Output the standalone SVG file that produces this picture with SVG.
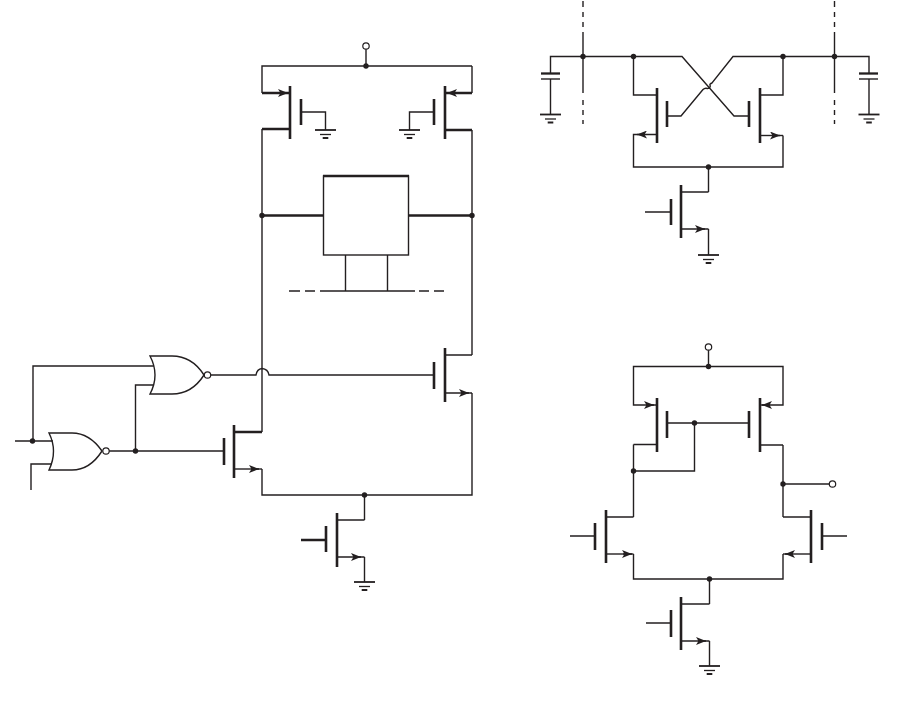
<svg xmlns="http://www.w3.org/2000/svg" width="900" height="708" viewBox="0 0 900 708">
<defs>
<marker id="ar" viewBox="0 0 10 8" refX="10" refY="4" markerWidth="10" markerHeight="8" markerUnits="userSpaceOnUse" orient="auto"><path d="M0 0L10 4L0 8L2.500 4Z" fill="#231f20"/></marker>
<symbol id="gnd" overflow="visible"><path d="M-10.500 0H10.500" stroke="#231f20" stroke-width="1.800" fill="none"/><path d="M-5.500 4.500H5.500" stroke="#231f20" stroke-width="1.300" fill="none"/><path d="M-2.800 8H2.800" stroke="#231f20" stroke-width="2" fill="none"/></symbol>
</defs>
<style>
.w{fill:none;stroke:#231f20;stroke-width:1.400}
.t{fill:none;stroke:#231f20;stroke-width:2.300}
.b{fill:none;stroke:#231f20;stroke-width:2.600}
.d{fill:#231f20}
.o{fill:#fff;stroke:#231f20;stroke-width:1.200}
.a{fill:none;stroke:#231f20;stroke-width:1.400;marker-end:url(#ar)}
</style>
<rect width="900" height="708" fill="#fff"/>
<g id="connectors">
<path class="w" d="M15 441H53M33 441V366H154M31 490V464H52M109 451H223M135.500 451V385H153M211 375H256Q257 369 262 368.500Q268 369 269 375H434"/>
<path class="w" d="M262 129V432M472 66V93M262 93V66H472M472 130V355M262 469V495H472V393"/>
<path class="w" d="M366 49V66M364.500 495V520M364.500 557V582"/>
<path class="t" d="M262 215.500H323M409 215.500H472M301 540H326M234 432H262M262 93H290M445 93H472M262 129H290M445 130H472"/>
<path class="w" d="M550.500 73V56.500H682L734 116H749M667 116H681L703 89.500Q705 87.500 707.500 88.500Q711 88 710 85Q709.500 84 712 83L733 56.500H869V73M550.500 79V114.500M869 79V114.500"/>
<path class="w" d="M583 1V7M583 12V17M583 22V27M583 32V93M583 100V105M583 110V115M583 120V124M834.500 1V7M834.500 12V17M834.500 22V27M834.500 32V93M834.500 100V105M834.500 110V115M834.500 120V124"/>
<path class="w" d="M633.500 56.500V95H657M783 56.500V95H760M657 134.500H633.500V167H783V135.500M708.500 167V192M708.500 229V255M645 212H671"/>
<path class="w" d="M708.500 350V366.500M657 405H633.500V366.500H783V405H760M667 423H749M694.500 423V471H633.500M633.500 444.500H657M633.500 444.500V517M783 445H760M783 445V517M783 484H829.500M570 536H595M847 536H822M633.500 517H606M783 517H811M633.500 554V579H783V554M709.500 579V604M709.500 641V666M646 623H671"/>
</g>
<g id="nor1"><path class="w" d="M49 433Q58 451 49 470H72C85 470 95 462 102 451C95 441 85 433 72 433Z"/><circle class="o" cx="106" cy="451" r="3.200"/></g>
<g id="nor2"><path class="w" d="M150 356Q160 375 150 394H172C186 394 197 386 204 375C197 364 186 356 172 356Z"/><circle class="o" cx="207.500" cy="375" r="3.200"/></g>
<g id="dots">
<circle class="d" cx="32.500" cy="441" r="2.700"/><circle class="d" cx="135.500" cy="451" r="2.700"/><circle class="d" cx="366" cy="66" r="2.700"/><circle class="d" cx="262" cy="215.500" r="2.700"/><circle class="d" cx="472" cy="215.500" r="2.700"/><circle class="d" cx="364.500" cy="495" r="2.700"/>
<circle class="d" cx="583" cy="56.500" r="2.700"/><circle class="d" cx="633.500" cy="56.500" r="2.700"/><circle class="d" cx="783" cy="56.500" r="2.700"/><circle class="d" cx="834.500" cy="56.500" r="2.700"/><circle class="d" cx="708.500" cy="167" r="2.700"/>
<circle class="d" cx="708.500" cy="366.500" r="2.700"/><circle class="d" cx="694.500" cy="423" r="2.700"/><circle class="d" cx="633.500" cy="471" r="2.700"/><circle class="d" cx="783" cy="484" r="2.700"/><circle class="d" cx="709.500" cy="579" r="2.700"/>
<circle class="o" cx="366" cy="46" r="3.200"/><circle class="o" cx="708.500" cy="347" r="3.200"/><circle class="o" cx="832.500" cy="484" r="3.200"/>
</g>
<g id="m-top-left"><path class="b" d="M290 86V139M301 99V125"/><path class="w" d="M301 112H325.500V130"/><path class="a" d="M278 93H288"/><use href="#gnd" x="325.500" y="130"/></g>
<g id="m-top-right"><path class="b" d="M445 86V139M434 99V125"/><path class="w" d="M434 112H409.500V130"/><path class="a" d="M457 93H447"/><use href="#gnd" x="409.500" y="130"/></g>
<g id="block"><rect class="w" x="323.500" y="176" width="85" height="79"/><path class="t" d="M323 176H409"/><path class="w" d="M345.500 255V291M387.500 255V291M320 291H415"/><path class="w" d="M289 291H300M305 291H315M419 291H429M434 291H444"/></g>
<g id="m-a"><path class="b" d="M224 438V465M234 425V478"/><path class="w" d="M234 469H262"/><path class="a" d="M251 469H259"/></g>
<g id="m-b"><path class="b" d="M434 362V389M445 348V402"/><path class="w" d="M445 355H472M445 393H472"/><path class="a" d="M461 393H469"/></g>
<g id="m-c"><path class="b" d="M326 526V552M337 513V567"/><path class="w" d="M337 520H364.500M337 557H364.500"/><path class="a" d="M353 557H361"/><use href="#gnd" x="364.500" y="582"/></g>
<g id="cap-left"><path class="t" d="M541 73.500H560"/><path class="w" d="M541 79H560"/><use href="#gnd" x="550.500" y="114.500"/></g>
<g id="cap-right"><path class="t" d="M859 73.500H878"/><path class="w" d="M859 79H878"/><use href="#gnd" x="869" y="114.500"/></g>
<g id="m-d"><path class="b" d="M657 88V143M667 101V127"/><path class="a" d="M645 134.500H637"/></g>
<g id="m-e"><path class="b" d="M760 88V143M749 101V127"/><path class="w" d="M760 135.500H783"/><path class="a" d="M772 135.500H780"/></g>
<g id="m-f"><path class="b" d="M681 185V238M671 199V225"/><path class="w" d="M681 192H708.500M681 229H708.500"/><path class="a" d="M697 229H705"/><use href="#gnd" x="708.500" y="255"/></g>
<g id="m-g"><path class="b" d="M657 398V452M667 411V438"/><path class="a" d="M646 405H654"/></g>
<g id="m-h"><path class="b" d="M760 398V452M749 411V438"/><path class="a" d="M770 405H762"/></g>
<g id="m-i"><path class="b" d="M606 510V563M595 523V550"/><path class="w" d="M606 554H633.500"/><path class="a" d="M623 554H632"/></g>
<g id="m-j"><path class="b" d="M811 510V563M822 523V550"/><path class="w" d="M811 554H783"/><path class="a" d="M793 554H785"/></g>
<g id="m-k"><path class="b" d="M681 597V650M671 610V637"/><path class="w" d="M681 604H709.500M681 641H709.500"/><path class="a" d="M698 641H706"/><use href="#gnd" x="709.500" y="666"/></g>
</svg>
